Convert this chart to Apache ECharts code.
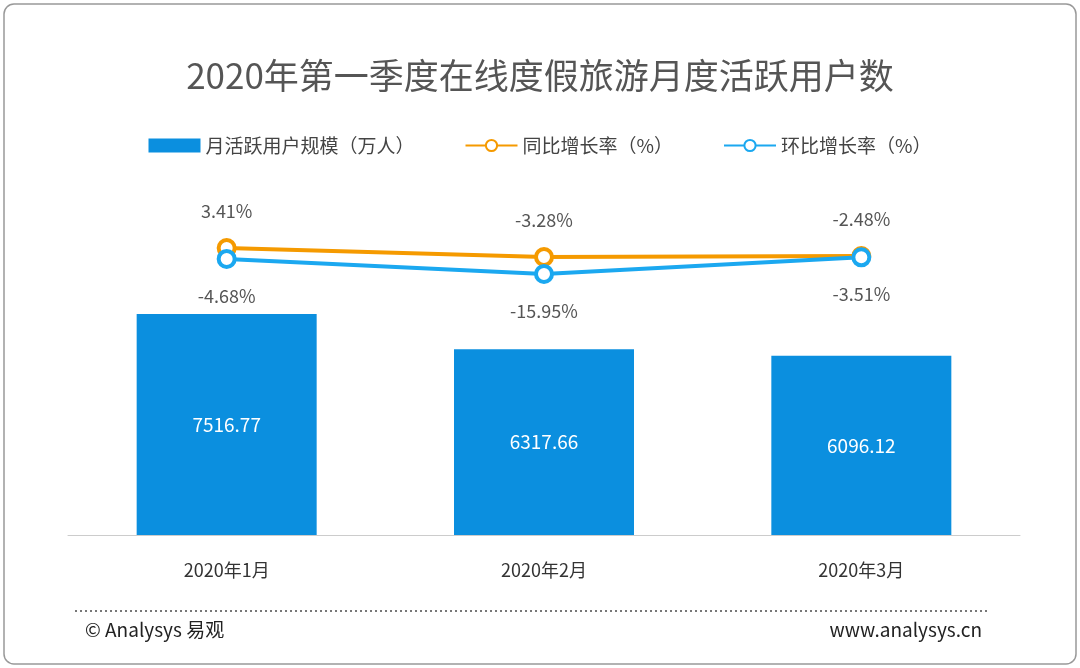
<!DOCTYPE html>
<html><head><meta charset="utf-8">
<script src="https://cdn.jsdelivr.net/npm/echarts@6/dist/echarts.min.js"></script>
<style>html,body{margin:0;padding:0;background:#fff}#c{width:1080px;height:668px}</style>
</head><body><div id="c"></div>
<script>
const categories = ['2020年1月','2020年2月','2020年3月'];
const mau = [7516.77, 6317.66, 6096.12];
const yoy = [3.41, -3.28, -2.48];
const mom = [-4.68, -15.95, -3.51];
const F = '"Noto Sans CJK SC","Noto Sans",sans-serif';
const chart = echarts.init(document.getElementById('c'));
chart.setOption({
  animation:false,
  textStyle:{fontFamily:F},
  title:{text:'2020年第一季度在线度假旅游月度活跃用户数',left:'center',top:53,textStyle:{fontSize:35,fontWeight:'normal',color:'#555',fontFamily:F}},
  legend:{top:131,left:'center',itemGap:50,itemWidth:52,itemHeight:14,textStyle:{fontSize:19,color:'#444',fontFamily:F},
    data:[{name:'月活跃用户规模（万人）',icon:'rect'},{name:'同比增长率（%）'},{name:'环比增长率（%）'}]},
  grid:{left:68,right:60,top:182,bottom:133},
  xAxis:{type:'category',data:categories,axisLine:{lineStyle:{color:'#ccc'}},axisTick:{show:false},
    axisLabel:{fontSize:18,color:'#333',margin:26}},
  yAxis:[{type:'value',min:0,max:12000,show:false,splitLine:{show:false}},
         {type:'value',min:-210.7,max:52.7,show:false,splitLine:{show:false}}],
  series:[
    {name:'月活跃用户规模（万人）',type:'bar',data:mau,barWidth:180,itemStyle:{color:'#0b8fdf'},
      label:{show:true,position:'inside',color:'#fff',fontSize:19}},
    {name:'同比增长率（%）',type:'line',yAxisIndex:1,data:yoy,symbol:'circle',symbolSize:16,
      lineStyle:{color:'#f59a00',width:4},itemStyle:{color:'#fff',borderColor:'#f59a00',borderWidth:4},
      label:{show:true,position:'top',distance:18,formatter:p=>p.value+'%',color:'#555',fontSize:18}},
    {name:'环比增长率（%）',type:'line',yAxisIndex:1,data:mom,symbol:'circle',symbolSize:16,
      lineStyle:{color:'#1ba8f0',width:4},itemStyle:{color:'#fff',borderColor:'#1ba8f0',borderWidth:4},
      label:{show:true,position:'bottom',distance:18,formatter:p=>p.value+'%',color:'#555',fontSize:18}}
  ],
  graphic:[
    {type:'rect',shape:{x:4,y:4,width:1072,height:660,r:10},style:{fill:'none',stroke:'#999',lineWidth:1.5},silent:true},
    {type:'line',shape:{x1:75,y1:611,x2:990,y2:611},style:{stroke:'#777',lineWidth:2,lineDash:[2,3]}},
    {type:'text',left:85,top:620,style:{text:'© Analysys 易观',fontSize:19,fill:'#222',fontFamily:F}},
    {type:'text',right:98,top:620,style:{text:'www.analysys.cn',fontSize:19,fill:'#222',fontFamily:F}}
  ]
});
</script></body></html>
